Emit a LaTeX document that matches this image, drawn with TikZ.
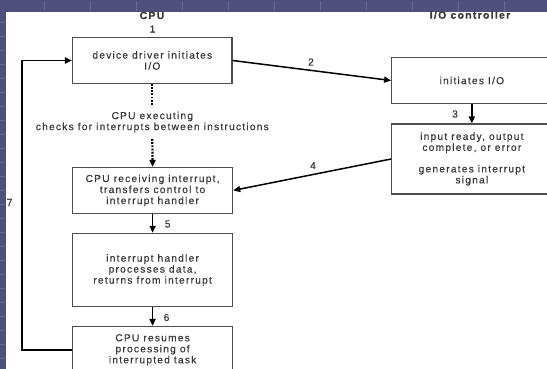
\documentclass[tikz,border=0pt]{standalone}
\usepackage{fontspec}
\newfontfamily\diagfont[LetterSpace=12,FakeBold=0.5]{Liberation Sans}
\usetikzlibrary{arrows.meta}

\definecolor{slide}{RGB}{80,80,124}
\definecolor{slidelight}{RGB}{104,104,148}
\definecolor{ink}{RGB}{58,58,58}
\definecolor{frame}{RGB}{78,78,78}

\begin{document}
\begin{tikzpicture}[x=1pt,y=-1pt,
  txt/.style={text=ink,font=\diagfont\fontsize{10.2}{11}\selectfont,align=center,inner sep=0pt},
  box/.style={txt,draw=frame,line width=1.2pt},
  head/.style={txt,font=\diagfont\bfseries\fontsize{10.5}{12}\selectfont},
  tip/.style={-{Triangle[length=7pt,width=6pt]}},
  arr/.style={tip,line width=1.7pt,black},
  dotline/.style={line width=2.2pt,black,dash pattern=on 1.8pt off 1.4pt}]

\useasboundingbox (0,0) rectangle (547,369);
\clip (0,0) rectangle (547,369);

% slide frame: blue strips along the top and the left
\fill[slide] (0,0) rectangle (547,369);
\foreach \x in {44,90,136,182,228,274,320,366,412,458,504}
  \draw[slidelight,line width=0.7pt] (\x,1) -- (\x,11);
\foreach \y in {22,36,50,64,78,92,106,120,134,148,162,176,190,204,218,232,246,260,274,288,302,316,330,344,358}
  \draw[slidelight,line width=0.7pt] (0,\y) -- (5,\y);
\fill[white] (6,12) rectangle (547,369);

% column headings
\node[head] (hcpu) at (152,15.5) {CPU};
\node[head] (hio) at (470,15) {I/O controller};

% CPU side
\node[box,minimum width=159.5pt,minimum height=45.6pt] (b1) at (152.3,60.5)
  {device driver initiates\\I/O};
\node[txt] (exec) at (152.3,122) [inner ysep=6.5pt]
  {CPU executing\\checks for interrupts between instructions};
\node[box,minimum width=160pt,minimum height=45.8pt] (b3) at (152.6,190.4)
  {CPU receiving interrupt,\\transfers control to\\interrupt handler};
\node[box,minimum width=160pt,minimum height=73.2pt] (b4) at (152.6,270)
  {interrupt handler\\processes data,\\returns from interrupt};
\node[box,minimum width=160pt,minimum height=46.6pt] (b5) at (152.6,349.8)
  {CPU resumes\\processing of\\interrupted task};

% I/O controller side
\node[box,minimum width=160.3pt,minimum height=45.6pt] (io1) at (471.85,80.5)
  {initiates I/O};
\node[box,minimum width=160.3pt,minimum height=70pt] (io2) at (471.85,159)
  {input ready, output\\complete, or error\\[10.5pt]generates interrupt\\signal};

% connectors
\draw[dotline] (b1.south) -- (exec.north);
\draw[dotline,tip] (exec.south) -- (b3.north);
\draw[arr,line width=1.5pt] (b1.east) -- (io1.west);
\draw[arr] (io1.south) -- (io2.north);
\draw[arr,line width=1.5pt] (io2.west) -- (b3.east);
\draw[arr] (b3.south) -- (b4.north);
\draw[arr] (b4.south) -- (b5.north);
\draw[arr] (b5.west) -- ++(-49.8,0) |- (b1.west);

% step numbers
\node[txt] (s1) at (152.5,29) {1};
\node[txt] (s2) at (311,62) {2};
\node[txt] (s3) at (455,114) {3};
\node[txt] (s4) at (313,165.7) {4};
\node[txt] (s5) at (167.7,224) {5};
\node[txt] (s6) at (166.5,317.5) {6};
\node[txt] (s7) at (9.5,202.5) {7};
\end{tikzpicture}
\end{document}
